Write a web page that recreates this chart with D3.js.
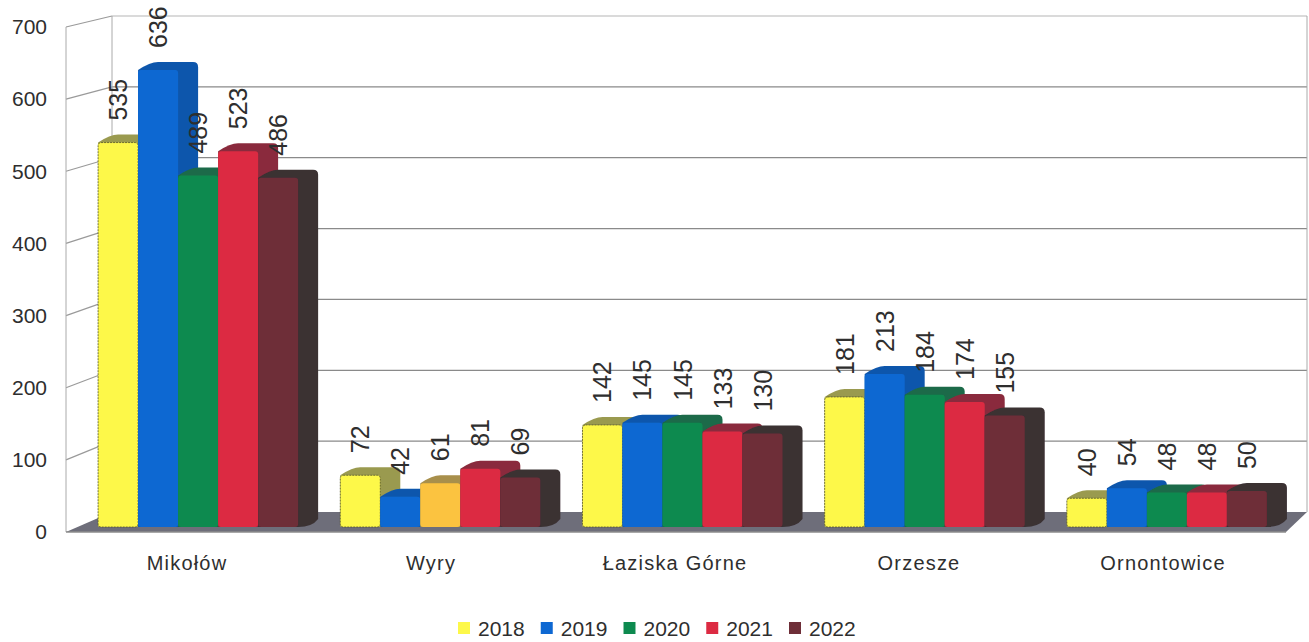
<!DOCTYPE html>
<html>
<head>
<meta charset="utf-8">
<script src="https://cdn.jsdelivr.net/npm/d3@7"></script>
<style>
  html, body { margin: 0; background: #fff; }
  svg { display: block; }
  text { font-family: "Liberation Sans", sans-serif; fill: #2e2e2e; }
</style>
</head>
<body>
<script>
const categories = ["Mikołów", "Wyry", "Łaziska Górne", "Orzesze", "Ornontowice"];
const years = ["2018", "2019", "2020", "2021", "2022"];
const values2018 = [535, 72, 142, 181, 40];
const values2019 = [636, 42, 145, 213, 54];
const values2020 = [489, 61, 145, 184, 48];
const values2021 = [523, 81, 133, 174, 48];
const values2022 = [486, 69, 130, 155, 50];
const seriesValues = [values2018, values2019, values2020, values2021, values2022];
const yTicks = [0, 100, 200, 300, 400, 500, 600, 700];

const frontColors = ["#fdf84a", "#0a68d2", "#0f8a50", "#dc2c43", "#6e2d38"];
const sideColors = ["#9a9a50", "#0f57ac", "#1b6a48", "#8a2c3c", "#3a3033"];
// the Wyry 2020 bar is orange in the source
const oddFront = "#fbc33f";
const oddSide = "#a88f4b";

const width = 1309;
const height = 642;
const depthX = 20;
const depthY = -8;

const svg = d3.select("body").append("svg").attr("width", width).attr("height", height);

svg.append("defs").append("filter").attr("id", "scan")
  .append("feGaussianBlur").attr("stdDeviation", 0.6);

const yFront = d3.scaleLinear().domain([0, 700]).range([532, 27]);
const yBack = d3.scaleLinear().domain([0, 700]).range([512, 16]);
const yBar = d3.scaleLinear().domain([0, 700]).range([527, 24]);

const xLabel = d3.scaleBand().domain(categories).range([65, 1285]);
const xGroup = d3.scaleBand().domain(categories).range([77, 1288])
  .paddingInner(0.174).paddingOuter(0.087);
const xBar = d3.scaleBand().domain(years).range([0, xGroup.bandwidth()]);

const backLeft = 112;
const backRight = 1307;
const frontLeft = 66;
const frontRight = 1286;

const chart = svg.append("g").attr("filter", "url(#scan)");

// walls
chart.selectAll("line.back")
  .data(yTicks.slice(1))
  .enter()
  .append("line")
  .attr("x1", backLeft)
  .attr("x2", backRight)
  .attr("y1", (d) => yBack(d))
  .attr("y2", (d) => yBack(d))
  .attr("stroke", (d) => (d == 700 ? "#b5b5b5" : "#8a8a8a"))
  .attr("stroke-width", 1.2);

chart.selectAll("line.side")
  .data(yTicks.slice(1))
  .enter()
  .append("line")
  .attr("x1", frontLeft)
  .attr("x2", backLeft)
  .attr("y1", (d) => yFront(d))
  .attr("y2", (d) => yBack(d))
  .attr("stroke", "#9a9a9a")
  .attr("stroke-width", 1.2);

[[frontLeft, yFront(700), frontLeft, yFront(0)],
 [backLeft, yBack(700), backLeft, yBack(0)],
 [backRight, yBack(700), backRight, yBack(0)]].forEach((l) => {
  chart.append("line")
    .attr("x1", l[0]).attr("y1", l[1])
    .attr("x2", l[2]).attr("y2", l[3])
    .attr("stroke", "#aaa")
    .attr("stroke-width", 1);
});

// floor
chart.append("path")
  .attr("d", `M${frontLeft},${yFront(0)}L${backLeft},${yBack(0)}L${backRight},${yBack(0)}L${frontRight},${yFront(0)}Z`)
  .attr("fill", "#6e6e7a");
chart.append("line")
  .attr("x1", frontLeft).attr("x2", frontRight)
  .attr("y1", yFront(0)).attr("y2", yFront(0))
  .attr("stroke", "#8c8c8c")
  .attr("stroke-width", 1.5);

// flat list of bars, left to right
const bars = [];
categories.forEach((c, i) => {
  years.forEach((y, j) => {
    bars.push({ category: c, year: y, value: seriesValues[j][i], s: j, odd: c == "Wyry" && y == "2020" });
  });
});

function barX(d) {
  return xGroup(d.category) + xBar(d.year);
}

const barGroups = chart.selectAll("g.bar")
  .data(bars)
  .enter()
  .append("g")
  .attr("class", "bar");

// side + top, with rounded back corners
barGroups.append("path")
  .attr("d", (d) => {
    const x0 = barX(d);
    const w = xBar.bandwidth();
    const y0 = yBar(d.value);
    const yb = yBar(0);
    const r = 5;
    return `M${x0},${y0}Q${x0 + depthX - 8},${y0 + depthY} ${x0 + depthX},${y0 + depthY}` +
      `L${x0 + w + depthX - r},${y0 + depthY}Q${x0 + w + depthX},${y0 + depthY} ${x0 + w + depthX},${y0 + depthY + r}` +
      `L${x0 + w + depthX},${yb + depthY}Q${x0 + w + depthX - 6},${yb} ${x0 + w},${yb}L${x0},${yb}Z`;
  })
  .attr("fill", (d) => (d.odd ? oddSide : sideColors[d.s]));

barGroups.append("rect")
  .attr("x", (d) => barX(d))
  .attr("y", (d) => yBar(d.value))
  .attr("width", xBar.bandwidth())
  .attr("height", (d) => yBar(0) - yBar(d.value))
  .attr("rx", 3)
  .attr("fill", (d) => (d.odd ? oddFront : frontColors[d.s]))
  .attr("stroke", (d) => (d.s == 0 ? "#55552a" : "none"))
  .attr("stroke-width", (d) => (d.s == 0 ? 0.8 : 0))
  .attr("stroke-dasharray", "2,1");

// value labels
svg.selectAll("text.value")
  .data(bars)
  .enter()
  .append("text")
  .attr("class", "value")
  .attr("transform", (d) => `translate(${barX(d) + xBar.bandwidth() / 2 + 9},${yBar(d.value) - 22}) rotate(-90)`)
  .attr("font-size", 25)
  .text((d) => d.value);

// axes
const yAxis = svg.append("g")
  .attr("transform", "translate(47,0)")
  .call(d3.axisLeft(yFront).tickValues(yTicks).tickSize(0).tickPadding(0).tickFormat(d3.format("d")));
yAxis.select(".domain").remove();
yAxis.selectAll("text").attr("font-size", 21).style("font-family", '"Liberation Sans", sans-serif');

const xAxis = svg.append("g")
  .attr("transform", "translate(0,556)")
  .call(d3.axisBottom(xLabel).tickSize(0).tickPadding(0));
xAxis.select(".domain").remove();
xAxis.selectAll("text")
  .attr("font-size", 20)
  .attr("letter-spacing", 1.2)
  .style("font-family", '"Liberation Sans", sans-serif');

// legend
const legendX = d3.scalePoint().domain(years).range([458, 789]);
const legend = svg.selectAll("g.legend")
  .data(years)
  .enter()
  .append("g")
  .attr("class", "legend")
  .attr("transform", (d) => `translate(${legendX(d)},0)`);
legend.append("rect")
  .attr("y", 622)
  .attr("width", 12)
  .attr("height", 12)
  .attr("fill", (d, i) => frontColors[i])
  .attr("filter", "url(#scan)");
legend.append("text")
  .attr("x", 20)
  .attr("y", 636)
  .attr("font-size", 21)
  .text((d) => d);
</script>
</body>
</html>
